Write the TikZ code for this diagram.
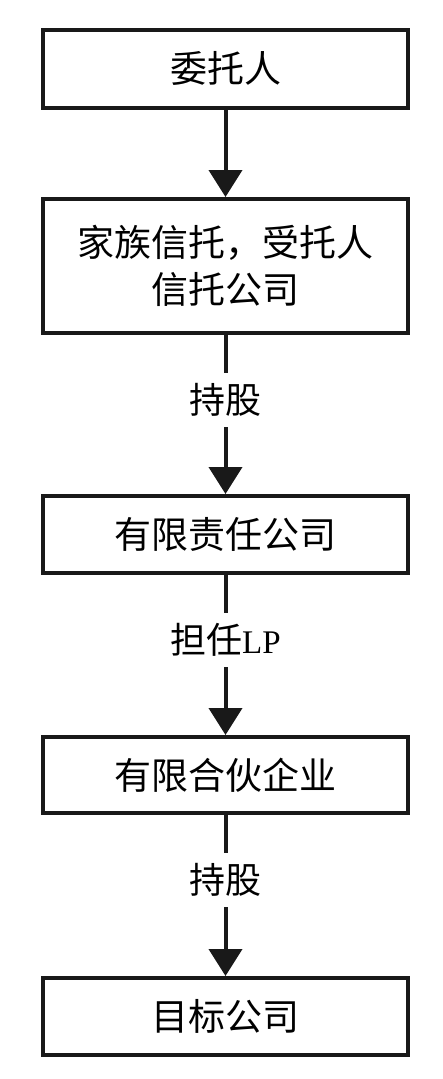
\documentclass[tikz,border=0pt]{standalone}
\usepackage{fontspec}
\newfontfamily\cjk{Noto Sans CJK SC}
\newfontfamily\lat{Liberation Serif}
\usetikzlibrary{arrows.meta}
\begin{document}
\begin{tikzpicture}[x=1pt,y=-1pt,
  box/.style={draw=black!90, line width=4pt, minimum width=365pt, inner sep=0pt,
    font=\cjk\fontsize{37pt}{47pt}\selectfont, align=center},
  lbl/.style={inner sep=0pt, minimum height=54pt, font=\cjk\fontsize{36pt}{40pt}\selectfont},
  conn/.style={draw=black!90, line width=4pt},
  arr/.style={conn, -{Triangle[length=27pt,width=33pt]}}
]
\useasboundingbox[fill=white] (0,0) rectangle (442,1079);
\node[box, minimum height=78pt] (b1) at (225.5,68.5) {委托人};
\node[box, minimum height=134pt] (b2) at (225.5,266) {家族信托，受托人\\信托公司};
\node[box, minimum height=77pt] (b3) at (225.5,534.5) {有限责任公司};
\node[box, minimum height=76pt] (b4) at (225.5,775) {有限合伙企业};
\node[box, minimum height=77pt] (b5) at (225.5,1016.5) {目标公司};
\node[lbl] (l1) at (225.5,400) {持股};
\node[lbl] (l2) at (225.5,640) {担任{\lat\fontsize{33pt}{40pt}\selectfont LP}};
\node[lbl] (l3) at (225.5,880) {持股};
\draw[arr] (b1.south) -- (b2.north);
\draw[conn] (b2.south) -- (l1.north);
\draw[arr] (l1.south) -- (b3.north);
\draw[conn] (b3.south) -- (l2.north);
\draw[arr] (l2.south) -- (b4.north);
\draw[conn] (b4.south) -- (l3.north);
\draw[arr] (l3.south) -- (b5.north);
\end{tikzpicture}
\end{document}
